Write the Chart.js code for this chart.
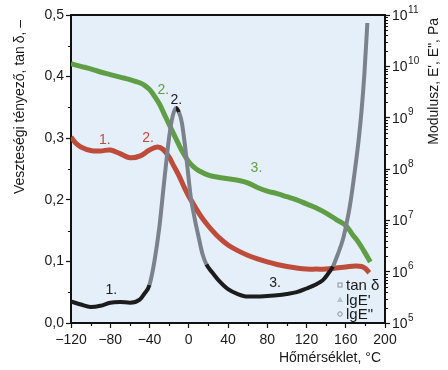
<!DOCTYPE html>
<html>
<head>
<meta charset="utf-8">
<script src="https://cdn.jsdelivr.net/npm/chart.js@4.4.1/dist/chart.umd.min.js"></script>
<style>
  html, body { margin: 0; padding: 0; background: #fff; }
  #wrap { width: 448px; height: 370px; }
</style>
</head>
<body>
<div id="wrap"><canvas id="dmaChart" width="448" height="370"></canvas></div>
<script>
// tan delta (left axis)
const tanTemps = [-120, -110, -100, -90, -80, -70, -60, -50, -45, -40, -35, -30, -26, -22, -19, -16, -13,
  -10, -7, -4, -1, 2, 6, 10, 14, 18, 24, 30, 40, 50, 60, 70, 80, 90, 100, 110, 120, 130,
  137, 142, 147, 152, 157, 161, 164, 167, 170, 173, 176, 179, 182];
const tanDelta = [0.035, 0.030, 0.026, 0.028, 0.033, 0.034, 0.033, 0.038, 0.048, 0.062, 0.100, 0.155, 0.215, 0.275, 0.313, 0.338, 0.349,
  0.342, 0.325, 0.290, 0.248, 0.205, 0.170, 0.140, 0.112, 0.095, 0.082, 0.070, 0.055, 0.047, 0.043, 0.043, 0.044, 0.045, 0.047, 0.050, 0.056, 0.063,
  0.070, 0.080, 0.092, 0.112, 0.135, 0.163, 0.188, 0.220, 0.256, 0.295, 0.343, 0.405, 0.487];

// lg E' (storage modulus, right axis)
const ePrimeTemps = [-120, -110, -100, -90, -80, -70, -60, -50, -45, -40, -35, -30, -25, -20, -15, -10, -5,
  0, 5, 10, 20, 30, 40, 50, 60, 70, 80, 90, 100, 110, 120, 130, 140, 150, 160, 167, 172, 178, 185];
const lgEPrime = [10.05, 10.0, 9.95, 9.89, 9.84, 9.79, 9.74, 9.68, 9.63, 9.55, 9.42, 9.27, 9.07, 8.87, 8.67, 8.47, 8.29,
  8.14, 8.04, 7.97, 7.88, 7.84, 7.81, 7.78, 7.73, 7.64, 7.57, 7.52, 7.46, 7.40, 7.32, 7.24, 7.14, 7.02, 6.90, 6.72, 6.60, 6.42, 6.19];

// lg E" (loss modulus, right axis)
const eDoubleTemps = [-120, -115, -110, -100, -90, -80, -70, -60, -50, -40, -32, -26, -20, -15, -10, -5,
  0, 5, 10, 15, 20, 25, 30, 40, 50, 60, 70, 80, 90, 100, 110, 120, 130, 140, 150, 160, 170, 176, 180, 184];
const lgEDouble = [8.62, 8.50, 8.43, 8.36, 8.35, 8.37, 8.30, 8.22, 8.25, 8.37, 8.43, 8.38, 8.23, 8.05, 7.87, 7.66,
  7.47, 7.31, 7.15, 7.01, 6.89, 6.78, 6.68, 6.52, 6.41, 6.32, 6.25, 6.19, 6.14, 6.10, 6.07, 6.05, 6.05, 6.05, 6.07, 6.09, 6.11, 6.10, 6.06, 5.98];

const tempTicks = [-120, -80, -40, 0, 40, 80, 120, 160, 200];
const decades = [5, 6, 7, 8, 9, 10, 11];

const RED = '#bd4c3b';
const GREEN = '#5f9e45';
const BLACK = '#1c1c1c';
const FONT = '"Liberation Sans", Arial, Helvetica, sans-serif';

// "1." "2." "3." marks: [text, temperature, tan delta level, colour]
const notes = [
  ['1.', -85.5, 0.297, RED], ['2.', -41.5, 0.300, RED],
  ['2.', -26, 0.378, GREEN], ['2.', -12.7, 0.362, BLACK],
  ['3.', 69, 0.251, GREEN], ['3.', 88, 0.064, BLACK], ['1.', -79, 0.054, BLACK]
];

Chart.defaults.font.family = FONT;
Chart.defaults.font.size = 14;
Chart.defaults.color = '#1a1a1a';

const pts = (xs, ys) => xs.map((t, i) => ({ x: t, y: ys[i] }));
const pa = (xs, ys) => xs.map((t, i) => ({ x: t, y: Math.pow(10, ys[i]) }));

const decor = {
  id: 'decor',
  beforeDraw(chart) {
    const { ctx, chartArea: a } = chart;
    ctx.save();
    ctx.fillStyle = '#e4effa';
    ctx.fillRect(a.left, a.top, a.right - a.left, a.bottom - a.top);
    ctx.restore();
  },
  afterDraw(chart) {
    const { ctx, chartArea: a, scales } = chart;
    const x = scales.x, y = scales.y, y2 = scales.y2;
    ctx.save();
    // top frame line
    ctx.strokeStyle = '#111';
    ctx.lineWidth = 2;
    ctx.beginPath();
    ctx.moveTo(a.left - 1, a.top);
    ctx.lineTo(a.right + 1, a.top);
    ctx.stroke();

    // minor ticks
    ctx.lineWidth = 1.2;
    ctx.beginPath();
    for (let v = 0.05; v < 0.5; v += 0.1) {
      const py = Math.round(y.getPixelForValue(v)) + 0.5;
      ctx.moveTo(a.left, py); ctx.lineTo(a.left - 3, py);
    }
    for (let t = -100; t < 200; t += 40) {
      const px = Math.round(x.getPixelForValue(t)) + 0.5;
      ctx.moveTo(px, a.bottom); ctx.lineTo(px, a.bottom + 3);
    }
    for (let e = 5; e < 11; e++) {
      for (let k = 2; k < 10; k++) {
        const py = Math.round(y2.getPixelForValue(k * Math.pow(10, e))) + 0.5;
        ctx.moveTo(a.right, py); ctx.lineTo(a.right + 3, py);
      }
    }
    ctx.stroke();

    // right axis labels 10^n
    ctx.fillStyle = '#1a1a1a';
    ctx.textBaseline = 'middle';
    ctx.textAlign = 'left';
    decades.forEach(e => {
      const py = y2.getPixelForValue(Math.pow(10, e));
      ctx.font = '14px ' + FONT;
      ctx.fillText('10', a.right + 7, py + 1);
      const w = ctx.measureText('10').width;
      ctx.font = '10px ' + FONT;
      ctx.fillText(String(e), a.right + 7 + w + 0.5, py - 5);
    });

    // axis titles
    ctx.font = '14px ' + FONT;
    ctx.textAlign = 'right';
    ctx.fillText('Hőmérséklet, °C', a.right - 4, 358);

    ctx.save();
    ctx.translate(20, 20);
    ctx.rotate(-Math.PI / 2);
    ctx.fillText('Veszteségi tényező, tan\u2009δ, –', 0, 0);
    ctx.restore();

    ctx.save();
    ctx.translate(434, 18);
    ctx.rotate(-Math.PI / 2);
    ctx.fillText('Modulusz, E\', E", Pa', 0, 0);
    ctx.restore();

    // numbered marks
    ctx.textAlign = 'center';
    notes.forEach(([txt, t, v, col]) => {
      ctx.fillStyle = col;
      ctx.fillText(txt, x.getPixelForValue(t), y.getPixelForValue(v));
    });

    // legend
    const items = [['tan δ', 'rect'], ["lgE'", 'tri'], ['lgE"', 'circ']];
    ctx.textAlign = 'left';
    ctx.font = '15px ' + FONT;
    items.forEach(([txt, kind], i) => {
      const ly = 285 + i * 14.5, lx = 340;
      ctx.strokeStyle = '#8b929c';
      ctx.fillStyle = '#b9c0c8';
      ctx.lineWidth = 1;
      if (kind === 'rect') {
        ctx.strokeRect(lx - 2, ly - 2, 4, 4);
      } else if (kind === 'tri') {
        ctx.beginPath();
        ctx.moveTo(lx, ly - 3); ctx.lineTo(lx + 3, ly + 2.5); ctx.lineTo(lx - 3, ly + 2.5);
        ctx.closePath(); ctx.fill();
      } else {
        ctx.beginPath(); ctx.arc(lx, ly, 2.2, 0, Math.PI * 2); ctx.stroke();
      }
      ctx.fillStyle = '#1a1a1a';
      ctx.fillText(txt, lx + 6, ly + 1);
    });
    ctx.restore();
  }
};

new Chart(document.getElementById('dmaChart'), {
  type: 'line',
  data: {
    datasets: [
      {
        label: 'tan δ',
        data: pts(tanTemps, tanDelta),
        yAxisID: 'y',
        borderColor: BLACK,
        borderWidth: 4,
        pointRadius: 0,
        cubicInterpolationMode: 'monotone',
        segment: {
          borderColor: c => Math.abs(c.p1.y - c.p0.y) / Math.max(0.1, Math.abs(c.p1.x - c.p0.x)) > 2.2 ? '#7b828c' : BLACK
        },
        order: 0
      },
      {
        label: "lgE'",
        data: pa(ePrimeTemps, lgEPrime),
        yAxisID: 'y2',
        borderColor: GREEN,
        borderWidth: 5,
        pointRadius: 0,
        tension: 0.4,
        order: 2
      },
      {
        label: 'lgE"',
        data: pa(eDoubleTemps, lgEDouble),
        yAxisID: 'y2',
        borderColor: RED,
        borderWidth: 5,
        pointRadius: 0,
        tension: 0.4,
        order: 1
      }
    ]
  },
  options: {
    responsive: false,
    animation: false,
    devicePixelRatio: 1,
    layout: { padding: { top: 15, left: 0, right: 0, bottom: 0 } },
    plugins: { legend: { display: false }, tooltip: { enabled: false } },
    scales: {
      x: {
        type: 'linear',
        min: -120,
        max: 200,
        afterFit: s => { s.height = 47; },
        afterBuildTicks: s => { s.ticks = tempTicks.map(v => ({ value: v })); },
        ticks: {
          padding: 4,
          maxRotation: 0,
          callback: v => (v < 0 ? '\u2212' + Math.abs(v) : String(v))
        },
        grid: { drawOnChartArea: false, tickLength: 5, tickColor: '#111', tickWidth: 1.2 },
        border: { color: '#111', width: 2 }
      },
      y: {
        position: 'left',
        min: 0,
        max: 0.5,
        afterFit: s => { s.width = 71; },
        ticks: {
          stepSize: 0.1,
          padding: 2,
          callback: v => v.toFixed(1).replace('.', ',')
        },
        grid: { drawOnChartArea: false, tickLength: 5, tickColor: '#111', tickWidth: 1.2 },
        border: { color: '#111', width: 2 }
      },
      y2: {
        type: 'logarithmic',
        position: 'right',
        min: 1e5,
        max: 1e11,
        afterFit: s => { s.width = 63; },
        afterBuildTicks: s => { s.ticks = decades.map(e => ({ value: Math.pow(10, e) })); },
        ticks: { callback: () => '' },
        grid: { drawOnChartArea: false, tickLength: 5, tickColor: '#111', tickWidth: 1.2 },
        border: { color: '#111', width: 2 }
      }
    }
  },
  plugins: [decor]
});
</script>
</body>
</html>
